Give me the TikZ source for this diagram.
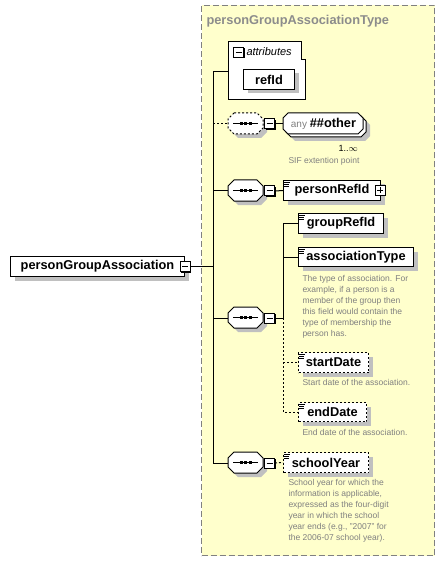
\documentclass[tikz,border=0pt]{standalone}
\usepackage{fontspec}
\setmainfont{Liberation Sans}
\usetikzlibrary{shadows,calc}
\definecolor{TypeFill}{RGB}{255,255,204}
\definecolor{TypeEdge}{RGB}{128,128,128}
\definecolor{TitleGray}{RGB}{140,140,140}
\definecolor{DocGray}{RGB}{128,128,128}
\definecolor{ShadowGray}{RGB}{192,192,192}

\begin{document}
\begin{tikzpicture}[
x=1pt,y=-1pt,
line width=1pt,
shadowed/.style={
drop shadow={shadow xshift=4pt,shadow yshift=-4pt,fill=ShadowGray,opacity=1}
},
elem/.style={
draw,
fill=white,
anchor=north west,
inner sep=0pt,
font=\fontsize{12.8}{14}\selectfont\bfseries,
shadowed
},
optline/.style={dash pattern=on 2pt off 2pt},
optelem/.style={elem,optline},
seqbox/.style={
anchor=north west,
inner sep=0pt,
minimum width=35pt,
minimum height=21pt
},
expand/.style={
draw,
fill=white,
inner sep=0pt,
minimum size=10pt,
drop shadow={shadow xshift=1pt,shadow yshift=-1pt,fill=black,opacity=1}
},
doc/.style={
anchor=north west,
align=left,
inner sep=0pt,
text=DocGray,
font=\fontsize{8.5}{11}\selectfont
}
]
\useasboundingbox (0,0) rectangle (445,561);

% complex type frame
\node[draw=TypeEdge,dash pattern=on 6pt off 3pt,fill=TypeFill,anchor=north west,
inner sep=0pt,minimum width=233pt,minimum height=550pt] (type) at (201,5) {};
\node[anchor=west,inner sep=0pt,text=TitleGray,font=\fontsize{12.8}{14}\selectfont\bfseries]
(typename) at (206,21) {personGroupAssociationType};

% root element
\node[elem,minimum width=174pt,minimum height=20pt] (root) at (10,256) {personGroupAssociation};
\node[expand] (rootx) at (root.east) {};
\draw ($(rootx.center)+(-3,0)$) -- ($(rootx.center)+(3,0)$);

% attributes
\node[anchor=north west,inner sep=0pt,minimum width=77pt,minimum height=58pt] (attrs) at (228,42) {};
\draw[fill=white] (228,42) -- (301,42) -- (301,60) -- (305,60) -- (305,100) -- (228,100) -- cycle;
\node[expand,anchor=north west] (attrsx) at (233,47) {};
\draw ($(attrsx.center)+(-3,0)$) -- ($(attrsx.center)+(3,0)$);
\node[anchor=west,inner sep=0pt,font=\fontsize{11}{12}\selectfont\itshape] (attrslabel) at (246,52) {attributes};
\node[elem,minimum width=51pt,minimum height=20pt] (refId) at (243,69) {refId};

% sequences
\node[seqbox] (seqAny) at (228,113) {};
\node[seqbox] (seqRef) at (228,180) {};
\node[seqbox] (seqGroup) at (228,307) {};
\node[seqbox] (seqYear) at (228,452) {};
\foreach \s/\st in {seqAny/optline,seqRef/solid,seqGroup/solid,seqYear/solid}{
\begin{scope}[shift={(\s.north west)}]
\fill[ShadowGray] (10,4) -- (33,4) -- (39,10) -- (39,19) -- (33,25) -- (10,25) -- (4,19) -- (4,10) -- cycle;
\draw[fill=white,\st] (6,0) -- (29,0) -- (35,6) -- (35,15) -- (29,21) -- (6,21) -- (0,15) -- (0,6) -- cycle;
\draw (5,10.5) -- (30,10.5);
\foreach \d in {13,17.5,22}
\fill (\d-1.5,9) rectangle (\d+1.5,12);
\end{scope}
\node[expand,anchor=west] (\s x) at (\s.east) {};
\draw ($(\s x.center)+(-3,0)$) -- ($(\s x.center)+(3,0)$);
}

% wildcard
\node[seqbox,minimum width=80pt] (anyOther) at (283,113) {};
\begin{scope}[shift={(anyOther.north west)}]
\fill[ShadowGray] (12,7) -- (82,7) -- (87,12) -- (87,23) -- (82,28) -- (12,28) -- (7,23) -- (7,12) -- cycle;
\draw[fill=white] (8,3) -- (78,3) -- (83,8) -- (83,19) -- (78,24) -- (8,24) -- (3,19) -- (3,8) -- cycle;
\draw[fill=white] (5,0) -- (75,0) -- (80,5) -- (80,16) -- (75,21) -- (5,21) -- (0,16) -- (0,5) -- cycle;
\end{scope}
\node[inner sep=0pt] (anyOtherLabel) at (anyOther.center)
{\fontsize{10}{12}\selectfont\textcolor{DocGray}{any} \fontsize{12.8}{14}\selectfont\bfseries \#\#other};
\node[anchor=west,inner sep=0pt,font=\fontsize{9}{10}\selectfont] (anyOcc) at (338,148) {1..$\infty$};
\node[doc] (anyDoc) at (288,157) {SIF extention point};

% elements
\node[elem,minimum width=97pt,minimum height=20pt] (personRefId) at (283,180) {personRefId\hspace{8pt}};
\node[expand] (personRefIdx) at ($(personRefId.east)+(-1,0)$) {};
\draw ($(personRefIdx.center)+(-3,0)$) -- ($(personRefIdx.center)+(3,0)$);
\draw ($(personRefIdx.center)+(0,-3)$) -- ($(personRefIdx.center)+(0,3)$);
\node[elem,minimum width=85pt,minimum height=20pt] (groupRefId) at (298,213) {groupRefId};
\node[elem,minimum width=115pt,minimum height=19pt] (associationType) at (298,247) {associationType};
\node[doc] (associationTypeDoc) at (302,275) {The type of association. For\\example, if a person is a\\member of the group then\\this field would contain the\\type of membership the\\person has.};
\node[optelem,minimum width=70pt,minimum height=20pt] (startDate) at (298,352) {startDate};
\node[doc] (startDateDoc) at (302,379) {Start date of the association.};
\node[optelem,minimum width=68pt,minimum height=19pt] (endDate) at (298,402) {endDate};
\node[doc] (endDateDoc) at (302,429) {End date of the association.};
\node[optelem,minimum width=85pt,minimum height=20pt] (schoolYear) at (283,452) {schoolYear};
\node[doc] (schoolYearDoc) at (288,479) {School year for which the\\information is applicable,\\expressed as the four-digit\\year in which the school\\year ends (e.g., "2007" for\\the 2006-07 school year).};

\foreach \e in {personRefId,groupRefId,associationType,startDate,endDate,schoolYear}{
\draw[line width=0.8pt] ($(\e.north west)+(1,2)$) -- ++(6,0);
\draw[line width=0.8pt] ($(\e.north west)+(1,4)$) -- ++(5,0);
\draw[line width=0.8pt] ($(\e.north west)+(1,6)$) -- ++(5,0);
}

% connectors
\coordinate (trunk) at (213,0);
\coordinate (branch) at (283,0);
\draw (attrs.west) -| (trunk |- seqYear.west) -- (seqYear.west);
\draw (rootx.east) -- (rootx.east -| trunk);
\draw[optline] (seqAny.west -| trunk) -- (seqAny.west);
\draw (seqRef.west -| trunk) -- (seqRef.west);
\draw (seqGroup.west -| trunk) -- (seqGroup.west);
\draw (seqAnyx.east) -- (anyOther.west);
\draw (seqRefx.east) -- (personRefId.west);
\draw[optline] (seqYearx.east) -- (schoolYear.west);
\draw (groupRefId.west) -| (branch |- seqGroupx.east) -- (seqGroupx.east);
\draw (associationType.west -| branch) -- (associationType.west);
\draw[optline] (branch |- seqGroupx.east) |- (endDate.west);
\draw[optline] (startDate.west -| branch) -- (startDate.west);
\end{tikzpicture}
\end{document}
